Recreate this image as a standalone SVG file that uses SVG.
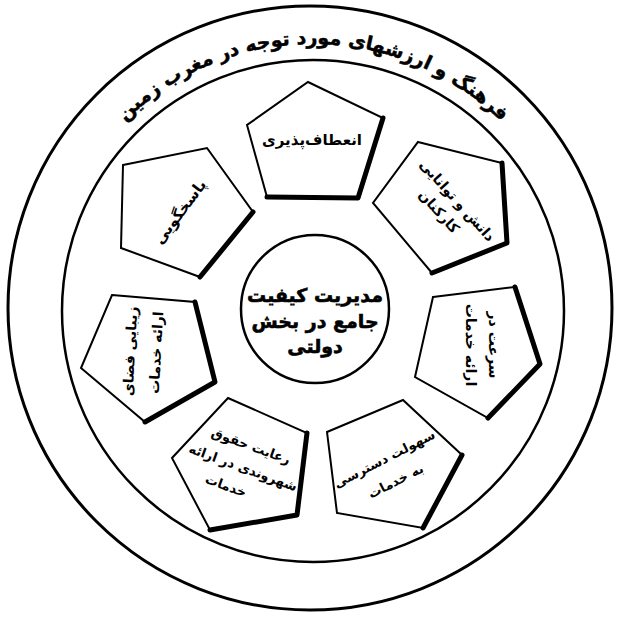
<svg xmlns="http://www.w3.org/2000/svg" width="617" height="618" viewBox="0 0 617 618">
<style>
.ring{fill:none;stroke:#000}
.pent{fill:#fff;stroke:#000;stroke-width:2;stroke-linejoin:miter}
.shadow{fill:none;stroke:#000;stroke-width:5;stroke-linecap:round;stroke-linejoin:round}
.t{font-family:"DejaVu Sans","Noto Sans",sans-serif;font-weight:bold;fill:#000;text-anchor:middle;direction:rtl}
</style>
<defs>
<path id="arc" d="M 46 311 A 267 267 0 0 1 580 311"/>
</defs>
<rect width="617" height="618" fill="#fff"/>
<g id="outer-ring">
<circle class="ring" cx="310" cy="308" r="302" stroke-width="3"/>
<circle class="ring" cx="313" cy="311" r="251" stroke-width="2.5"/>
<text class="t" font-size="19" stroke="#000" stroke-width="0.5"><textPath href="#arc" startOffset="50%">فرهنگ و ارزشهای مورد توجه در مغرب زمین</textPath></text>
</g>
<g id="center">
<circle cx="315" cy="309" r="74" fill="#fff" stroke="#000" stroke-width="2.5"/>
<text class="t" font-size="19" stroke="#000" stroke-width="0.6" x="315" y="302">مدیریت کیفیت</text>
<text class="t" font-size="19" stroke="#000" stroke-width="0.6" x="315" y="328">جامع در بخش</text>
<text class="t" font-size="19" stroke="#000" stroke-width="0.6" x="315" y="353">دولتی</text>
</g>
<g id="p-top">
<polygon class="pent" points="308,82 383,118 358,198 267,197 247,125"/>
<polyline class="shadow" points="383,118 358,198 267,197"/>
<text class="t" font-size="15" x="312" y="145">انعطاف‌پذیری</text>
</g>
<g id="p-upper-right">
<polygon class="pent" points="418,142 502,163 507,243 432,273 373,203"/>
<polyline class="shadow" points="502,163 507,243 432,273"/>
<g transform="translate(450,207) rotate(48)">
<text class="t" font-size="14" x="0" y="-5">دانش و توانایی</text>
<text class="t" font-size="14" x="-4" y="16">کارکنان</text>
</g>
</g>
<g id="p-right">
<polygon class="pent" points="433,297 515,287 540,364 488,418 415,377"/>
<polyline class="shadow" points="515,287 540,364 488,418"/>
<g transform="translate(482,345) rotate(90)">
<text class="t" font-size="14" x="0" y="-7">سرعت در</text>
<text class="t" font-size="14" x="0" y="16">ارائه خدمات</text>
</g>
</g>
<g id="p-lower-right">
<polygon class="pent" points="327,432 403,400 462,455 423,528 337,513"/>
<polyline class="shadow" points="462,455 423,528"/>
<g transform="translate(390,470) rotate(-27)">
<text class="t" font-size="13" x="0" y="-8">سهولت دسترسی</text>
<text class="t" font-size="13" x="0" y="17">به خدمات</text>
</g>
</g>
<g id="p-lower-left">
<polygon class="pent" points="228,398 307,433 297,515 210,530 172,458"/>
<polyline class="shadow" points="307,433 297,515 210,530"/>
<g transform="translate(243,468) rotate(20)">
<text class="t" font-size="13" x="0" y="-19">رعایت حقوق</text>
<text class="t" font-size="13" x="0" y="4">شهروندی در ارائه</text>
<text class="t" font-size="13" x="-10" y="27">خدمات</text>
</g>
</g>
<g id="p-left">
<polygon class="pent" points="112,295 195,302 215,382 145,422 81,368"/>
<polyline class="shadow" points="195,302 215,382 145,422"/>
<g transform="translate(144,352) rotate(-87)">
<text class="t" font-size="14" x="0" y="-9">زیبایی فضای</text>
<text class="t" font-size="14" x="0" y="17">ارائه خدمات</text>
</g>
</g>
<g id="p-upper-left">
<polygon class="pent" points="123,165 207,148 253,212 200,277 121,248"/>
<polyline class="shadow" points="253,212 200,277"/>
<text class="t" font-size="15" transform="translate(180,212) rotate(-53)" x="0" y="5">پاسخگویی</text>
</g>
</svg>
